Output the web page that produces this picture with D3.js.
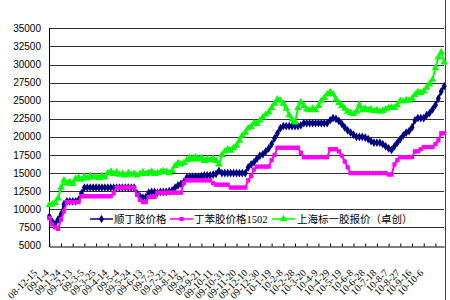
<!DOCTYPE html>
<html>
<head>
<meta charset="utf-8">
<script src="https://cdn.jsdelivr.net/npm/d3@7"></script>
<style>
  body { margin: 0; background: #fff; }
  svg { display: block; }
</style>
</head>
<body>
<div id="chart"></div>
<script>
// price data, one reading every 5 days starting 2008-12-15
const stepDays = 5;
const tickEveryDays = 20;

const tickLabels = ["08-12-15","09-1-4","09-1-24","09-2-13","09-3-5","09-3-25","09-4-14","09-5-4",
  "09-5-24","09-6-13","09-7-3","09-7-23","09-8-12","09-9-1","09-9-21","09-10-11","09-10-31",
  "09-11-20","09-12-10","09-12-30","10-1-19","10-2-8","10-2-28","10-3-20","10-4-9","10-4-29",
  "10-5-19","10-6-8","10-6-28","10-7-18","10-8-7","10-8-27","10-9-16","10-10-6"];

const yTicks = [5000, 7500, 10000, 12500, 15000, 17500, 20000, 22500, 25000, 27500, 30000, 32500, 35000];

const seriesNames = ["顺丁胶价格", "丁苯胶价格1502", "上海标一胶报价（卓创）"];

// 顺丁胶价格
const shundingPrice = [
  9000, 8300, 8000, 8600, 9300, 10700, 11100, 11100, 11100, 11100,
  11300, 12200, 13000, 13000, 13000, 13000, 13000, 13000, 13000, 13000,
  13000, 13000, 13000, 13000, 13000, 13000, 13000, 13000, 13000, 13000,
  12200, 11800, 11600, 11700, 12300, 12400, 12400, 12300, 12400, 12400,
  12400, 12500, 12600, 13000, 13300, 13500, 13800, 14400, 14500, 14500,
  14500, 14500, 14600, 14700, 14700, 14700, 14800, 14900, 15300, 15000,
  15000, 15000, 15000, 15000, 15000, 15000, 15000, 15000, 15800, 16200,
  16500, 17000, 17400, 17600, 18000, 18400, 19000, 19800, 20500, 21200,
  21500, 21500, 21500, 21500, 21500, 21500, 21600, 21900, 21900, 21900,
  21900, 21900, 21900, 21900, 21900, 21900, 22300, 22600, 22500, 22200,
  21800, 21300, 20900, 20600, 20300, 20000, 20000, 20000, 19900, 19700,
  19400, 19200, 19200, 19200, 19000, 18700, 18400, 18200, 18700, 19200,
  19700, 20200, 20600, 20800, 21300, 22300, 22600, 22600, 22600, 23000,
  23300, 23800, 24400, 25300, 26300, 27000
];

// 丁苯胶价格1502
const dingbenPrice = [
  8800, 7900, 7500, 7300, 8600, 9700, 11000, 11000, 11000, 11000,
  11000, 11800, 11800, 11800, 11800, 11800, 11800, 11800, 11800, 11800,
  11800, 11800, 12200, 13000, 13000, 13000, 13000, 13000, 13000, 13000,
  12000, 11300, 11000, 11000, 11700, 11700, 11700, 12300, 12300, 12300,
  12300, 12300, 12300, 12300, 12300, 12300, 13600, 14000, 14000, 14000,
  14000, 14000, 14000, 14000, 14000, 14000, 13600, 13400, 13400, 13400,
  13400, 13400, 13000, 13000, 13000, 13000, 13000, 13000, 14000, 14600,
  15500, 15900, 15900, 15900, 15900, 15900, 16800, 17500, 18500, 18500,
  18500, 18500, 18500, 18500, 18500, 18500, 17800, 17200, 17200, 17200,
  17200, 17200, 17200, 17200, 17200, 17200, 18300, 18300, 18300, 18000,
  17400, 16600, 15800, 15000, 15000, 15000, 15000, 15000, 15000, 15000,
  15000, 15000, 15000, 15000, 15000, 15000, 14800, 14800, 16200, 16800,
  17200, 17200, 17200, 17200, 17200, 18000, 18000, 18300, 18600, 18600,
  18600, 18600, 19000, 19500, 20500, 20500
];

// 上海标一胶报价（卓创）
const biaoyiPrice = [
  10600, 10700, 10900, 11500, 13000, 14000, 13600, 13800, 13500, 14200,
  14400, 14100, 14500, 14300, 14600, 14400, 14500, 14300, 14600, 14400,
  15000, 15200, 14900, 15100, 14800, 14900, 14700, 15000, 14800, 14900,
  14700, 14900, 15100, 14900, 15000, 15200, 14900, 15000, 15100, 15300,
  15200, 15000, 15300, 16000, 16400, 16200, 16400, 16800, 17100, 16900,
  17200, 16900, 17100, 16700, 16900, 16800, 17000, 16700, 16200, 17500,
  18000, 18300, 18100, 18500, 18800, 19500, 20200, 20600, 21200, 21400,
  21900, 21800, 22300, 22700, 23100, 23400, 24000, 24600, 25200, 25000,
  24600, 23900, 23000, 22400, 22000, 24000, 24800, 24300, 23800, 23700,
  23900, 23700, 24300, 25000, 25400, 25900, 26200, 25900, 25200, 24700,
  24300, 23900, 23500, 23300, 23200, 23500, 24400, 23700, 23900, 23700,
  23800, 23600, 23700, 23500, 23600, 23800, 24000, 24100, 24000, 24400,
  25000, 24900, 25100, 25000, 25300, 25800, 26200, 26100, 26300, 26800,
  27300, 27900, 29500, 31000, 31700, 30300
];

const W = 450, H = 300;
const svg = d3.select("#chart").append("svg")
  .attr("width", W).attr("height", H);

const lastDay = (shundingPrice.length - 1) * stepDays;
const x = d3.scaleLinear().domain([0, lastDay]).range([49.3, 444.2]);
const y = d3.scaleLinear().domain([5000, 35000]).range([245.5, 28.3]);

// right border of the chart area
svg.append("line")
  .attr("x1", 445.5).attr("x2", 445.5).attr("y1", 0).attr("y2", H)
  .attr("stroke", "#444").attr("stroke-width", 1);

// gridlines
svg.append("g").selectAll("line")
  .data(yTicks.filter(v => v > 5000))
  .join("line")
  .attr("x1", 49).attr("x2", 444)
  .attr("y1", d => Math.round(y(d)) + 0.5)
  .attr("y2", d => Math.round(y(d)) + 0.5)
  .attr("stroke", "#333").attr("stroke-width", 1);

// y labels
svg.append("g").selectAll("text")
  .data(yTicks)
  .join("text")
  .attr("x", 41).attr("y", d => y(d))
  .attr("dy", "0.35em")
  .attr("text-anchor", "end")
  .style("font-family", "'Liberation Sans', Arial, sans-serif")
  .style("font-size", "10px")
  .attr("fill", "#000")
  .text(d => d);

// y axis line
svg.append("line")
  .attr("x1", 49.5).attr("x2", 49.5)
  .attr("y1", Math.round(y(35000))).attr("y2", Math.round(y(5000)) + 1)
  .attr("stroke", "#000");

// x axis
const xAxis = d3.axisBottom(x)
  .tickValues(tickLabels.map((d, i) => i * tickEveryDays))
  .tickFormat((d, i) => tickLabels[i])
  .tickSize(-3)
  .tickSizeOuter(0);

const gx = svg.append("g")
  .attr("transform", `translate(0,${Math.round(y(5000)) + 0.5})`)
  .call(xAxis);
gx.select(".domain").attr("stroke", "#000");
gx.selectAll(".tick line").attr("stroke", "#000");
gx.selectAll(".tick text")
  .attr("x", 0).attr("y", 0).attr("dy", 0)
  .attr("text-anchor", "end")
  .attr("transform", "translate(-12,27) rotate(-45)")
  .style("font-family", "'Liberation Serif', 'Times New Roman', serif")
  .style("font-size", "10px")
  .attr("fill", "#000");

// series
const series = [
  { name: seriesNames[0], values: shundingPrice, color: "#000080", shape: d3.symbolDiamond, size: 22 },
  { name: seriesNames[1], values: dingbenPrice, color: "#ff00ff", shape: d3.symbolSquare, size: 18 },
  { name: seriesNames[2], values: biaoyiPrice, color: "#00ff00", shape: d3.symbolTriangle, size: 24 }
];

const line = d3.line()
  .x((d, i) => x(i * stepDays))
  .y(d => y(d));

series.forEach(s => {
  const g = svg.append("g");
  g.append("path")
    .attr("d", line(s.values))
    .attr("fill", "none")
    .attr("stroke", s.color)
    .attr("stroke-width", 2);
  g.selectAll("path.mark")
    .data(s.values)
    .join("path")
    .attr("class", "mark")
    .attr("transform", (d, i) => `translate(${x(i * stepDays)},${y(d)})`)
    .attr("d", d3.symbol().type(s.shape).size(s.size))
    .attr("fill", s.color);
});

// legend
const legendY = 219;
const legendItems = [
  { x0: 90, textX: 114 },
  { x0: 170, textX: 194 },
  { x0: 272, textX: 297 }
];
const lg = svg.append("g");
series.forEach((s, i) => {
  const it = legendItems[i];
  lg.append("line")
    .attr("x1", it.x0).attr("x2", it.x0 + 23)
    .attr("y1", legendY).attr("y2", legendY)
    .attr("stroke", s.color).attr("stroke-width", 1.5);
  lg.append("path")
    .attr("transform", `translate(${it.x0 + 11.5},${legendY})`)
    .attr("d", d3.symbol().type(s.shape).size(s.size))
    .attr("fill", s.color);
  lg.append("text")
    .attr("x", it.textX).attr("y", legendY)
    .attr("dy", "0.36em")
    .style("font-family", "'Liberation Serif', 'Noto Sans CJK SC', serif")
    .style("font-size", "10.5px")
    .attr("fill", "#000")
    .text(s.name);
});
</script>
</body>
</html>
